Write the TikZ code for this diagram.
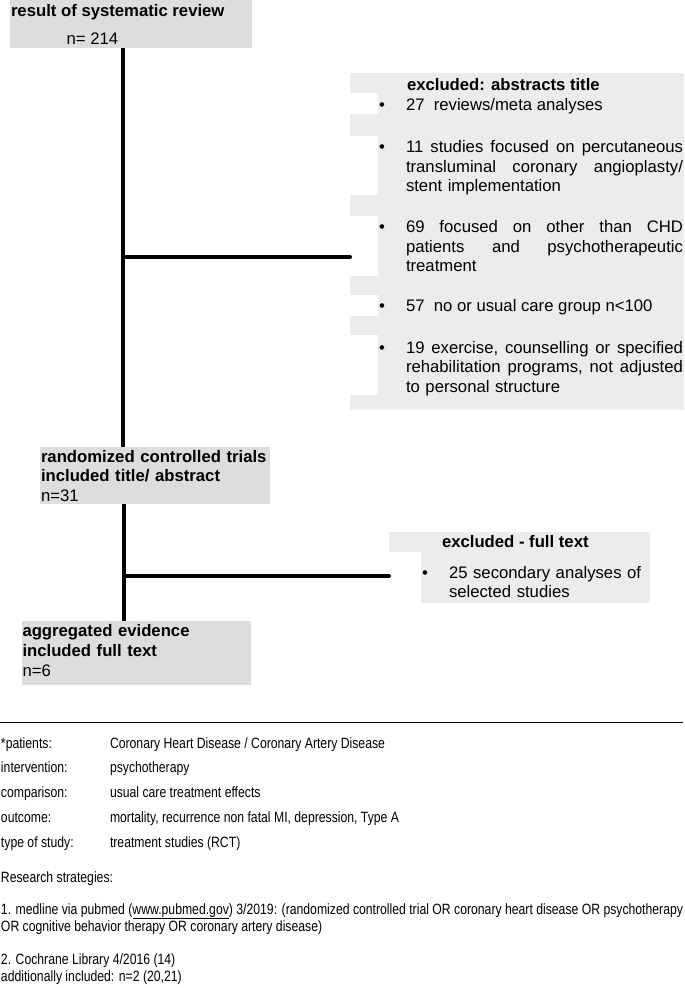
\documentclass[tikz,border=0pt]{standalone}
\usepackage{fontspec}
\setmainfont{Liberation Sans}
\newfontfamily\narrowfont[FakeStretch=0.82]{Liberation Sans}
\usepackage{tikz}
\definecolor{boxgray}{RGB}{221,221,221}
\definecolor{exgray}{RGB}{236,236,236}

\begin{document}
\begin{tikzpicture}[x=1pt,y=-1pt,
  every node/.style={inner sep=0pt, outer sep=0pt},
  txt/.style={anchor=base west, font=\fontsize{16.7}{19.5}\selectfont, align=left},
  hd/.style={txt, font=\fontsize{16.7}{19.5}\selectfont\bfseries},
  foot/.style={anchor=base west, font=\narrowfont\fontsize{14.9}{17}\selectfont, align=left},
  link/.style={line width=4pt}]
\useasboundingbox (0,0) rectangle (685,988);

\node[fill=boxgray, minimum width=242pt, minimum height=48pt, anchor=north west] (review) at (10,0) {};
\node[hd] (reviewt) at (11,16.7) {result of systematic review};
\node[txt] (reviewn) at (66.7,44.3) {n= 214};

\node[fill=exgray, minimum width=334pt, minimum height=337pt, anchor=north west] (excl) at (350,73) {};
\foreach \a/\b in {93/114,136/195,216/276,295/316,335/395}
  \fill[white] (350,\a) rectangle (378,\b);
\node[hd] (exclt) at (407,90) {excluded: abstracts title};
\foreach \y in {110.5,152.5,232.5,311.5,353}
  \node[txt] at (379,\y) {\textbullet};
\node[txt] (reviews) at (406,110.5) {27\ \ reviews/meta analyses};
\node[txt, text width=280pt] (ptca) at (406,152.5) {\makebox[277pt]{11\hfill studies\hfill focused\hfill on\hfill percutaneous}\\
  \makebox[277pt]{transluminal\hfill coronary\hfill angioplasty/}\\stent implementation};
\node[txt, text width=280pt] (other) at (406,232.5) {\makebox[277pt]{69\hfill focused\hfill on\hfill other\hfill than\hfill CHD}\\
  \makebox[277pt]{patients\hfill and\hfill psychotherapeutic}\\treatment};
\node[txt] (care) at (406,311.5) {57\ \ no or usual care group n<100};
\node[txt, text width=280pt] (rehab) at (406,353) {\makebox[277pt]{19\hfill exercise,\hfill counselling\hfill or\hfill specified}\\
  \makebox[277pt]{rehabilitation\hfill programs,\hfill not\hfill adjusted}\\to personal structure};

\node[fill=boxgray, minimum width=230pt, minimum height=57pt, anchor=north west] (rct) at (40,447) {};
\node[hd, text width=229pt] (rctt) at (41,462.3) {randomized controlled trials\\included title/ abstract};
\node[txt] (rctn) at (41,501.3) {n=31};

\node[fill=exgray, minimum width=261pt, minimum height=71pt, anchor=north west] (excl2) at (389,532) {};
\fill[white] (389,552) rectangle (421,603);
\node[hd] (excl2t) at (442,547) {excluded - full text};
\node[txt] at (422,578) {\textbullet};
\node[txt, text width=200pt] (second) at (449,578) {25 secondary analyses of\\selected studies};

\node[fill=boxgray, minimum width=229pt, minimum height=64pt, anchor=north west] (agg) at (22,621) {};
\node[hd, text width=228pt] (aggt) at (22.5,636.7) {aggregated evidence\\included full text};
\node[txt] (aggn) at (22.5,676) {n=6};

\coordinate (fork1) at (123,257);
\coordinate (fork2) at (124,576);
\draw[link] (fork1 |- review.south) -- (fork1 |- rct.north);
\draw[link, line cap=round] (fork1) -- (fork1 -| excl.west);
\draw[link] (fork2 |- rct.south) -- (fork2 |- agg.north);
\draw[link, line cap=round] (fork2) -- (fork2 -| excl2.west);

\draw[line width=1pt] (0,722) -- (683,722);
\node[foot] (pat) at (1,748) {*patients:};
\node[foot] at (110,748) {Coronary Heart Disease / Coronary Artery Disease};
\node[foot] (int) at (1,772.5) {intervention:};
\node[foot] at (110,772.5) {psychotherapy};
\node[foot] (comp) at (1,797) {comparison:};
\node[foot] at (110,797) {usual care treatment effects};
\node[foot] (out) at (1,822) {outcome:};
\node[foot] at (110,822) {mortality, recurrence non fatal MI, depression, Type A};
\node[foot] (type) at (1,847) {type of study:};
\node[foot] at (110,847) {treatment studies (RCT)};
\node[foot] (strat) at (1,882) {Research strategies:};
\node[foot] (medline) at (1,931) {1. medline via pubmed (\underline{www.pubmed.gov}) 3/2019: (randomized controlled trial OR coronary heart disease OR psychotherapy\\
  OR cognitive behavior therapy OR coronary artery disease)};
\node[foot] (cochrane) at (1,964) {2. Cochrane Library 4/2016 (14)};
\node[foot] (add) at (1,981) {additionally included: n=2 (20,21)};
\end{tikzpicture}
\end{document}
